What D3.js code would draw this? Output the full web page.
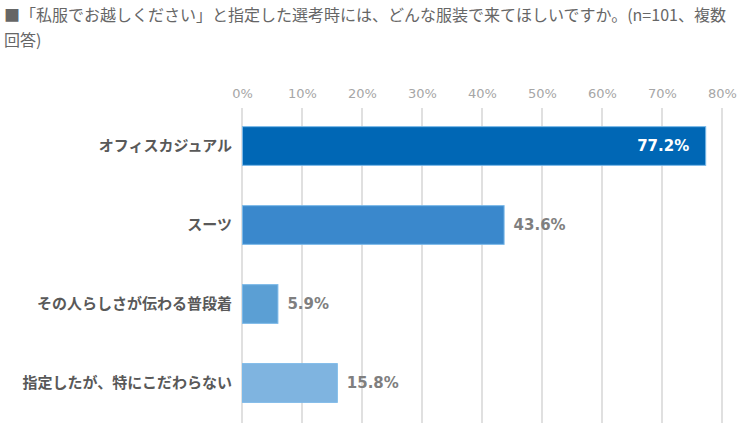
<!DOCTYPE html>
<html><head><meta charset="utf-8">
<script src="https://cdn.jsdelivr.net/npm/d3@7/dist/d3.min.js"></script>
<style>
body{margin:0;background:#fff;}
svg{display:block;font-family:"Noto Sans CJK JP","Noto Sans",sans-serif;}
</style></head><body>
<svg id="c" width="750" height="439"></svg>
<script>
const categories = ["オフィスカジュアル","スーツ","その人らしさが伝わる普段着","指定したが、特にこだわらない"];
const values = [77.2, 43.6, 5.9, 15.8];
const barColors = ["#0067b5","#3a88cc","#5b9fd4","#7fb4e0"];
const tickValues = [0,10,20,30,40,50,60,70,80];
const titleLines = ["■「私服でお越しください」と指定した選考時には、どんな服装で来てほしいですか。(n=101、複数","回答)"];

const svg = d3.select("#c");
const x = d3.scaleLinear().domain([0,80]).range([242,722]);
const y = d3.scaleBand().domain(categories).range([106.5,422.5]).paddingInner(0.51).paddingOuter(0.255);

svg.selectAll("text.title").data(titleLines).join("text")
  .attr("x",4).attr("y",(d,i)=>21+i*25)
  .attr("font-size",16).attr("fill","#666")
  .text(d=>d);

// gridlines
svg.append("g").selectAll("line").data(tickValues).join("line")
  .attr("x1",d=>x(d)).attr("x2",d=>x(d))
  .attr("y1",108).attr("y2",423)
  .attr("stroke","#d0d0d0").attr("stroke-width",1.3);

// top axis labels
const ax = svg.append("g").attr("transform","translate(0,98)")
  .call(d3.axisTop(x).tickValues(tickValues).tickFormat(d=>d+"%").tickSize(0).tickPadding(0));
ax.select(".domain").remove();
ax.selectAll("text").attr("font-size",13).attr("fill","#a6a6a6")
  .attr("font-family","'DejaVu Sans',sans-serif");

// bars
svg.append("g").selectAll("rect").data(values).join("rect")
  .attr("x",x(0)+0.5).attr("y",(d,i)=>y(categories[i]))
  .attr("width",d=>x(d)-x(0)).attr("height",y.bandwidth())
  .attr("fill",(d,i)=>barColors[i])
  .attr("stroke","#7ab8e8").attr("stroke-width",1);

// category labels
svg.append("g").selectAll("text").data(categories).join("text")
  .attr("x",232).attr("y",d=>y(d)+y.bandwidth()/2)
  .attr("dy","0.36em").attr("text-anchor","end")
  .attr("font-size",15).attr("font-weight","bold").attr("fill","#595959")
  .text(d=>d);

// value labels
svg.append("g").selectAll("text").data(values).join("text")
  .attr("x",(d,i)=> i===0 ? x(d)-16 : x(d)+10)
  .attr("y",(d,i)=>y(categories[i])+y.bandwidth()/2)
  .attr("dy","0.36em")
  .attr("text-anchor",(d,i)=> i===0 ? "end" : "start")
  .attr("font-size",15).attr("font-weight","bold")
  .attr("font-family","'DejaVu Sans',sans-serif")
  .attr("fill",(d,i)=> i===0 ? "#ffffff" : "#7f7f7f")
  .text(d=>d.toFixed(1)+"%");
</script>
</body></html>
